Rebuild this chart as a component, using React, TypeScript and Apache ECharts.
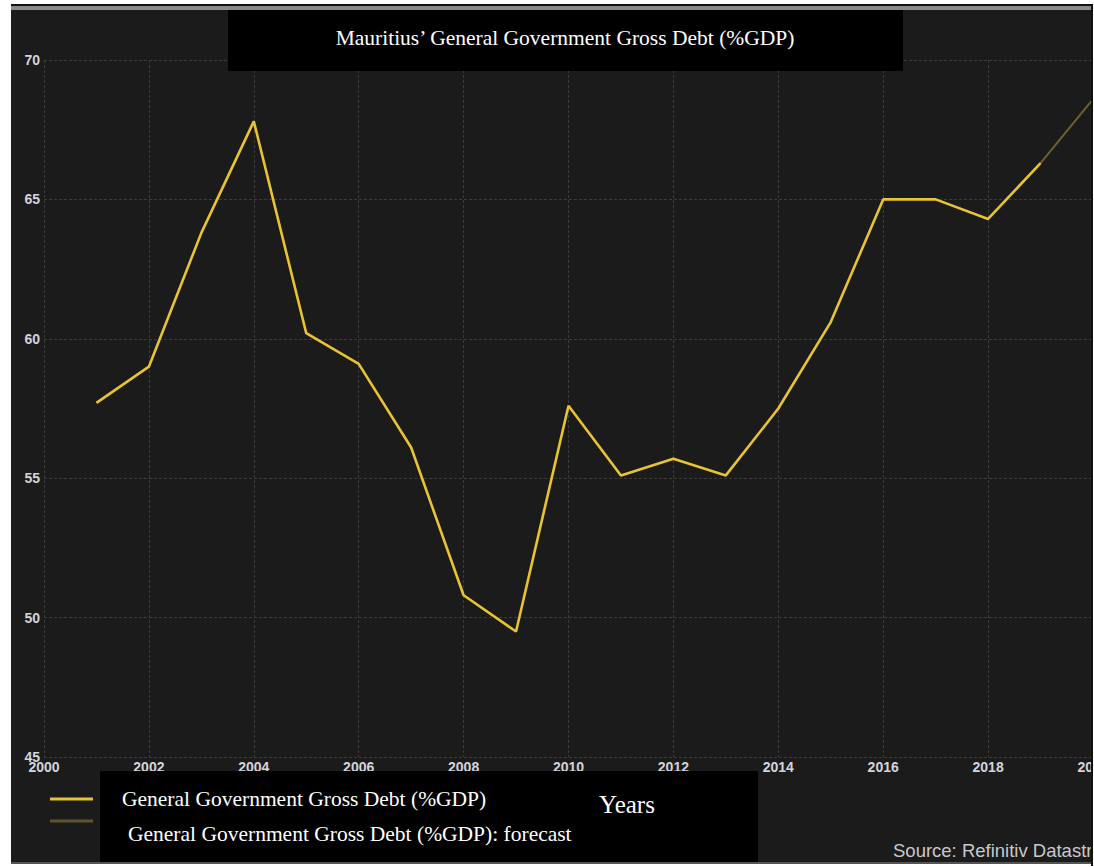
import React, { useEffect, useRef } from "react";
import * as echarts from "echarts";

const years = [2001, 2002, 2003, 2004, 2005, 2006, 2007, 2008, 2009, 2010, 2011, 2012, 2013, 2014, 2015, 2016, 2017, 2018, 2019];
const debt = [57.7, 59.0, 63.8, 67.8, 60.2, 59.1, 56.1, 50.8, 49.5, 57.6, 55.1, 55.7, 55.1, 57.5, 60.6, 65.0, 65.0, 64.3, 66.3];
const forecastYears = [2019, 2020];
const forecastDebt = [66.3, 68.6];

const titleText = "Mauritius\u2019 General Government Gross Debt (%GDP)";
const seriesName = "General Government Gross Debt (%GDP)";
const forecastName = "General Government Gross Debt (%GDP): forecast";
const xAxisName = "Years";
const sourceText = "Source: Refinitiv Datastream";

export default function App() {
  const ref = useRef<HTMLDivElement>(null);
  useEffect(() => {
    if (!ref.current) return;
    const chart = echarts.init(ref.current, null, { renderer: "svg" });
    const serif = "'Liberation Serif', 'Times New Roman', serif";
    const sans = "'Liberation Sans', Arial, sans-serif";
    chart.setOption({
      animation: false,
      backgroundColor: "#1b1b1b",
      grid: { left: 44, right: 1, top: 60, bottom: 110, containLabel: false, outerBoundsMode: "none" },
      xAxis: {
        type: "value",
        min: 2000,
        max: 2020,
        interval: 2,
        axisLine: { show: false },
        axisTick: { show: false },
        axisLabel: {
          color: "#d4d4dc",
          fontFamily: sans,
          fontWeight: "bold",
          fontSize: 14,
          margin: 3,
          formatter: (v: number) => String(v),
        },
        splitLine: { show: true, lineStyle: { color: "#3c3c3c", width: 1, type: [3, 2] } },
      },
      yAxis: {
        type: "value",
        min: 45,
        max: 70,
        interval: 5,
        axisLine: { show: false },
        axisTick: { show: false },
        axisLabel: {
          color: "#d4d4dc",
          fontFamily: sans,
          fontWeight: "bold",
          fontSize: 14,
          margin: 4,
        },
        splitLine: { show: true, lineStyle: { color: "#3c3c3c", width: 1, type: [3, 2] } },
      },
      series: [
        {
          name: seriesName,
          type: "line",
          data: years.map((y, i) => [y, debt[i]]),
          showSymbol: false,
          lineStyle: { color: "#e8c430", width: 2.6 },
          itemStyle: { color: "#e8c430" },
          z: 3,
        },
        {
          name: forecastName,
          type: "line",
          data: forecastYears.map((y, i) => [y, forecastDebt[i]]),
          showSymbol: false,
          lineStyle: { color: "#6c6030", width: 2 },
          itemStyle: { color: "#6c6030" },
          z: 2,
        },
      ],
      graphic: [
        // title box
        { type: "rect", z: 100, shape: { x: 228, y: 10, width: 675, height: 61 }, style: { fill: "#000" } },
        {
          type: "text", z: 101, x: 565, y: 38,
          style: { text: titleText, fill: "#fff", font: `21.5px ${serif}`, align: "center", verticalAlign: "middle" },
        },
        // legend box
        { type: "rect", z: 100, shape: { x: 100, y: 771, width: 658, height: 92 }, style: { fill: "#000" } },
        { type: "line", z: 101, shape: { x1: 50, y1: 799, x2: 93, y2: 799 }, style: { stroke: "#e8c430", lineWidth: 3 } },
        { type: "line", z: 101, shape: { x1: 50, y1: 821, x2: 93, y2: 821 }, style: { stroke: "#5e5430", lineWidth: 3 } },
        {
          type: "text", z: 101, x: 122, y: 799,
          style: { text: seriesName, fill: "#fff", font: `21.5px ${serif}`, verticalAlign: "middle" },
        },
        {
          type: "text", z: 101, x: 128, y: 834,
          style: { text: forecastName, fill: "#fff", font: `21.5px ${serif}`, verticalAlign: "middle" },
        },
        {
          type: "text", z: 101, x: 627, y: 804,
          style: { text: xAxisName, fill: "#fff", font: `25px ${serif}`, align: "center", verticalAlign: "middle" },
        },
        {
          type: "text", z: 90, x: 893, y: 850,
          style: { text: sourceText, fill: "#c8c8cc", font: `18.5px ${sans}`, verticalAlign: "middle" },
        },
        // frame
        { type: "rect", z: 200, shape: { x: 0, y: 0, width: 1094, height: 4 }, style: { fill: "#fff" } },
        { type: "rect", z: 200, shape: { x: 0, y: 4, width: 1094, height: 2 }, style: { fill: "#111" } },
        { type: "rect", z: 200, shape: { x: 11, y: 6, width: 1080, height: 4 }, style: { fill: "#8a8a8a" } },
        { type: "rect", z: 200, shape: { x: 0, y: 0, width: 11, height: 867 }, style: { fill: "#fff" } },
        { type: "rect", z: 200, shape: { x: 0, y: 864, width: 1094, height: 3 }, style: { fill: "#fff" } },
        { type: "rect", z: 200, shape: { x: 11, y: 862, width: 1080, height: 2 }, style: { fill: "#555" } },
        { type: "rect", z: 200, shape: { x: 1091, y: 4, width: 2, height: 862 }, style: { fill: "#111" } },
        { type: "rect", z: 200, shape: { x: 1093, y: 0, width: 1, height: 867 }, style: { fill: "#fff" } },
      ],
    });
    return () => chart.dispose();
  }, []);
  return (
    <div
      ref={ref}
      style={{ position: "fixed", left: 0, top: 0, width: 1094, height: 867, background: "#fff" }}
    />
  );
}
